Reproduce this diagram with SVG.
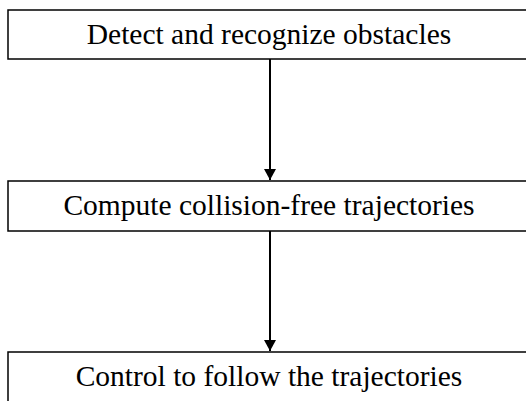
<svg xmlns="http://www.w3.org/2000/svg" width="526" height="401" viewBox="0 0 526 401">
<style>
.box{fill:#fff;stroke:#000;stroke-width:1.5}
.lbl{font-family:"Liberation Serif","Times New Roman",serif;font-size:29.5px;fill:#000;text-anchor:middle}
.conn{stroke:#000;stroke-width:2;fill:none}
</style>
<defs>
<marker id="ah" markerUnits="userSpaceOnUse" markerWidth="12" markerHeight="12" refX="10" refY="5.5" orient="auto" viewBox="0 0 10 11">
<path d="M0,0 L10,5.5 L0,11 Z" fill="#000"/>
</marker>
</defs>
<rect width="526" height="401" fill="#fff"/>
<g id="n1">
<rect class="box" x="8" y="10" width="540" height="49"/>
<text class="lbl" x="269" y="44">Detect and recognize obstacles</text>
</g>
<g id="n2">
<rect class="box" x="8" y="181" width="540" height="50"/>
<text class="lbl" x="269" y="215">Compute collision-free trajectories</text>
</g>
<g id="n3">
<rect class="box" x="8" y="352" width="540" height="70"/>
<text class="lbl" x="269" y="386">Control to follow the trajectories</text>
</g>
<g id="connectors">
<line class="conn" x1="270" y1="59" x2="270" y2="180" marker-end="url(#ah)"/>
<line class="conn" x1="270" y1="231" x2="270" y2="351" marker-end="url(#ah)"/>
</g>
</svg>
